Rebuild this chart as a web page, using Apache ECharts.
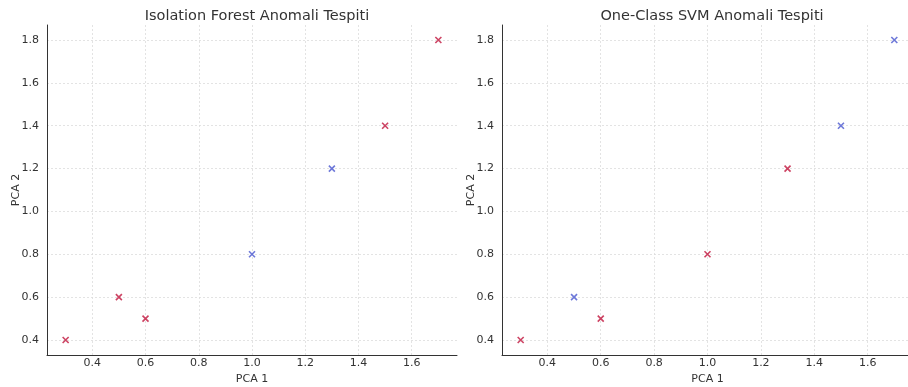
<!DOCTYPE html>
<html>
<head>
<meta charset="utf-8">
<script src="https://cdn.jsdelivr.net/npm/echarts@6/dist/echarts.min.js"></script>
<style>
  html, body { margin: 0; padding: 0; background: #fff; }
  #main { width: 908px; height: 387px; }
</style>
</head>
<body>
<div id="main"></div>
<script>
var pca1 = [0.3, 0.5, 0.6, 1.0, 1.3, 1.5, 1.7];
var pca2 = [0.4, 0.6, 0.5, 0.8, 1.2, 1.4, 1.8];
// -1 = anomaly (red), 1 = normal (blue)
var isoLabels = [-1, -1, -1, 1, 1, -1, -1];
var svmLabels = [-1, 1, -1, -1, -1, 1, 1];
var xTicks = [0.4, 0.6, 0.8, 1.0, 1.2, 1.4, 1.6];
var yTicks = [0.4, 0.6, 0.8, 1.0, 1.2, 1.4, 1.6, 1.8];
var titles = ['Isolation Forest Anomali Tespiti', 'One-Class SVM Anomali Tespiti'];

var RED = '#c0143c', BLUE = '#4a58d0';
var xMark = 'path://M0,0L10,10M10,0L0,10';

var chart = echarts.init(document.getElementById('main'));

function pts(labels, want) {
  var out = [];
  for (var i = 0; i < pca1.length; i++) {
    if (labels[i] === want) out.push([pca1[i], pca2[i]]);
  }
  return out;
}

var txt = { color: '#333', fontSize: 11, fontFamily: 'DejaVu Sans' };

function xAx(idx) {
  return {
    gridIndex: idx, type: 'value', min: 0.23, max: 1.77,
    name: 'PCA 1', nameLocation: 'middle', nameGap: 19, nameMoveOverlap: false,
    nameTextStyle: txt,
    axisLine: { show: true, onZero: false, lineStyle: { color: '#333', width: 1 } },
    axisTick: { show: false, customValues: xTicks },
    axisLabel: { customValues: xTicks, color: txt.color, fontSize: txt.fontSize, fontFamily: txt.fontFamily, margin: 3,
      formatter: function (v) { return v.toFixed(1); } },
    splitLine: { show: true, lineStyle: { color: '#dcdcdc', type: [2, 2], width: 0.8 } }
  };
}
function yAx(idx) {
  return {
    gridIndex: idx, type: 'value', min: 0.33, max: 1.87,
    name: 'PCA 2', nameLocation: 'middle', nameGap: 25, nameMoveOverlap: false,
    nameTextStyle: txt,
    axisLine: { show: true, onZero: false, lineStyle: { color: '#333', width: 1 } },
    axisTick: { show: false, customValues: yTicks },
    axisLabel: { customValues: yTicks, color: txt.color, fontSize: txt.fontSize, fontFamily: txt.fontFamily, margin: 8,
      formatter: function (v) { return v.toFixed(1); } },
    splitLine: { show: true, lineStyle: { color: '#dcdcdc', type: [2, 2], width: 0.8 } }
  };
}
function ser(idx, data, col) {
  return {
    type: 'scatter', xAxisIndex: idx, yAxisIndex: idx, data: data,
    symbol: xMark, symbolSize: 6,
    itemStyle: { color: 'none', borderColor: col, borderWidth: 1.6 },
    emphasis: { disabled: true }
  };
}

var option = {
  animation: false,
  backgroundColor: '#fff',
  title: [
    { text: titles[0], left: 252, top: 4, textAlign: 'center',
      textStyle: { color: '#333', fontSize: 14.5, fontWeight: 'normal', fontFamily: 'DejaVu Sans' } },
    { text: titles[1], left: 707, top: 4, textAlign: 'center',
      textStyle: { color: '#333', fontSize: 14.5, fontWeight: 'normal', fontFamily: 'DejaVu Sans' } }
  ],
  grid: [
    { left: 47, top: 25, width: 410, height: 330, containLabel: false, outerBoundsMode: 'none' },
    { left: 502, top: 25, width: 411, height: 330, containLabel: false, outerBoundsMode: 'none' }
  ],
  xAxis: [xAx(0), xAx(1)],
  yAxis: [yAx(0), yAx(1)],
  series: [
    ser(0, pts(isoLabels, -1), RED),
    ser(0, pts(isoLabels, 1), BLUE),
    ser(1, pts(svmLabels, -1), RED),
    ser(1, pts(svmLabels, 1), BLUE)
  ]
};
chart.setOption(option);
</script>
</body>
</html>
